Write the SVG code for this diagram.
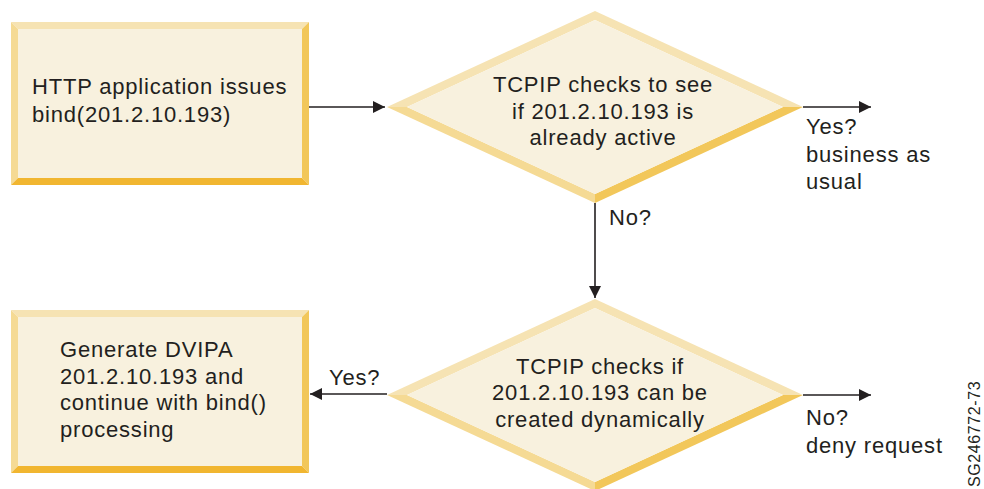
<svg xmlns="http://www.w3.org/2000/svg" width="984" height="489" viewBox="0 0 984 489">
  <style>
    text { font-family: "Liberation Sans", Arial, sans-serif; font-size: 22px; letter-spacing: 0.8px; fill: #231f20; }
    .c { text-anchor: middle; }
    .fill { fill: #f8f1de; }
    .bt { fill: #f6e3b3; }
    .bl { fill: #f5da94; }
    .br { fill: #f2c75a; }
    .bb { fill: #f1b630; }
    .conn { stroke: #231f20; stroke-width: 1.6; fill: none; }
    .small { font-size: 16px; letter-spacing: 0.6px; }
  </style>
  <defs>
    <marker id="arr" viewBox="0 0 12 12" refX="12" refY="6" markerWidth="12" markerHeight="12" markerUnits="userSpaceOnUse" orient="auto">
      <path d="M0,0 L12,6 L0,12 Z" fill="#231f20"/>
    </marker>
  </defs>

  <g id="node-http">
    <polygon class="bt" points="11,22 309,22 302,29 18,29"/>
    <polygon class="bl" points="11,22 18,29 18,178 11,185"/>
    <polygon class="br" points="309,22 309,185 302,178 302,29"/>
    <polygon class="bb" points="11,185 18,178 302,178 309,185"/>
    <rect class="fill" x="18" y="29" width="284" height="149"/>
    <text x="32" y="94">HTTP application issues</text>
    <text x="32" y="121.5">bind(201.2.10.193)</text>
  </g>

  <g id="node-check-active">
    <polygon class="bt" points="387,107 595,11 595,20 407,107"/>
    <polygon class="bt" points="595,11 803,107 783,107 595,20"/>
    <polygon class="bl" points="387,107 407,107 595,194 595,203"/>
    <polygon class="br" points="803,107 595,203 595,194 783,107"/>
    <polygon class="fill" points="407,107 595,20 783,107 595,194"/>
    <text class="c" x="603" y="92">TCPIP checks to see</text>
    <text class="c" x="603" y="118.5">if 201.2.10.193 is</text>
    <text class="c" x="603" y="145">already active</text>
  </g>

  <g id="node-check-dynamic">
    <polygon class="bt" points="387,395 595,299 595,308 407,395"/>
    <polygon class="bt" points="595,299 803,395 783,395 595,308"/>
    <polygon class="bl" points="387,395 407,395 595,482 595,491"/>
    <polygon class="br" points="803,395 595,491 595,482 783,395"/>
    <polygon class="fill" points="407,395 595,308 783,395 595,482"/>
    <text class="c" x="600" y="373.5">TCPIP checks if</text>
    <text class="c" x="600" y="400">201.2.10.193 can be</text>
    <text class="c" x="600" y="426.5">created dynamically</text>
  </g>

  <g id="node-generate">
    <polygon class="bt" points="11,310 309,310 302,317 18,317"/>
    <polygon class="bl" points="11,310 18,317 18,466 11,473"/>
    <polygon class="br" points="309,310 309,473 302,466 302,317"/>
    <polygon class="bb" points="11,473 18,466 302,466 309,473"/>
    <rect class="fill" x="18" y="317" width="284" height="149"/>
    <text x="60" y="357">Generate DVIPA</text>
    <text x="60" y="383.5">201.2.10.193 and</text>
    <text x="60" y="410">continue with bind()</text>
    <text x="60" y="436.5">processing</text>
  </g>

  <g id="connectors">
    <line class="conn" x1="309" y1="107" x2="385" y2="107" marker-end="url(#arr)"/>
    <line class="conn" x1="803" y1="107" x2="871" y2="107" marker-end="url(#arr)"/>
    <line class="conn" x1="595" y1="203" x2="595" y2="298" marker-end="url(#arr)"/>
    <line class="conn" x1="387" y1="394" x2="310" y2="394" marker-end="url(#arr)"/>
    <line class="conn" x1="803" y1="395" x2="871" y2="395" marker-end="url(#arr)"/>
  </g>

  <g id="labels">
    <text x="806" y="134">Yes?</text>
    <text x="806" y="161.5">business as</text>
    <text x="806" y="189">usual</text>
    <text x="609" y="225">No?</text>
    <text x="329" y="385">Yes?</text>
    <text x="806" y="425">No?</text>
    <text x="806" y="452.5">deny request</text>
    <text class="small" transform="translate(980,487) rotate(-90)">SG246772-73</text>
  </g>
</svg>
